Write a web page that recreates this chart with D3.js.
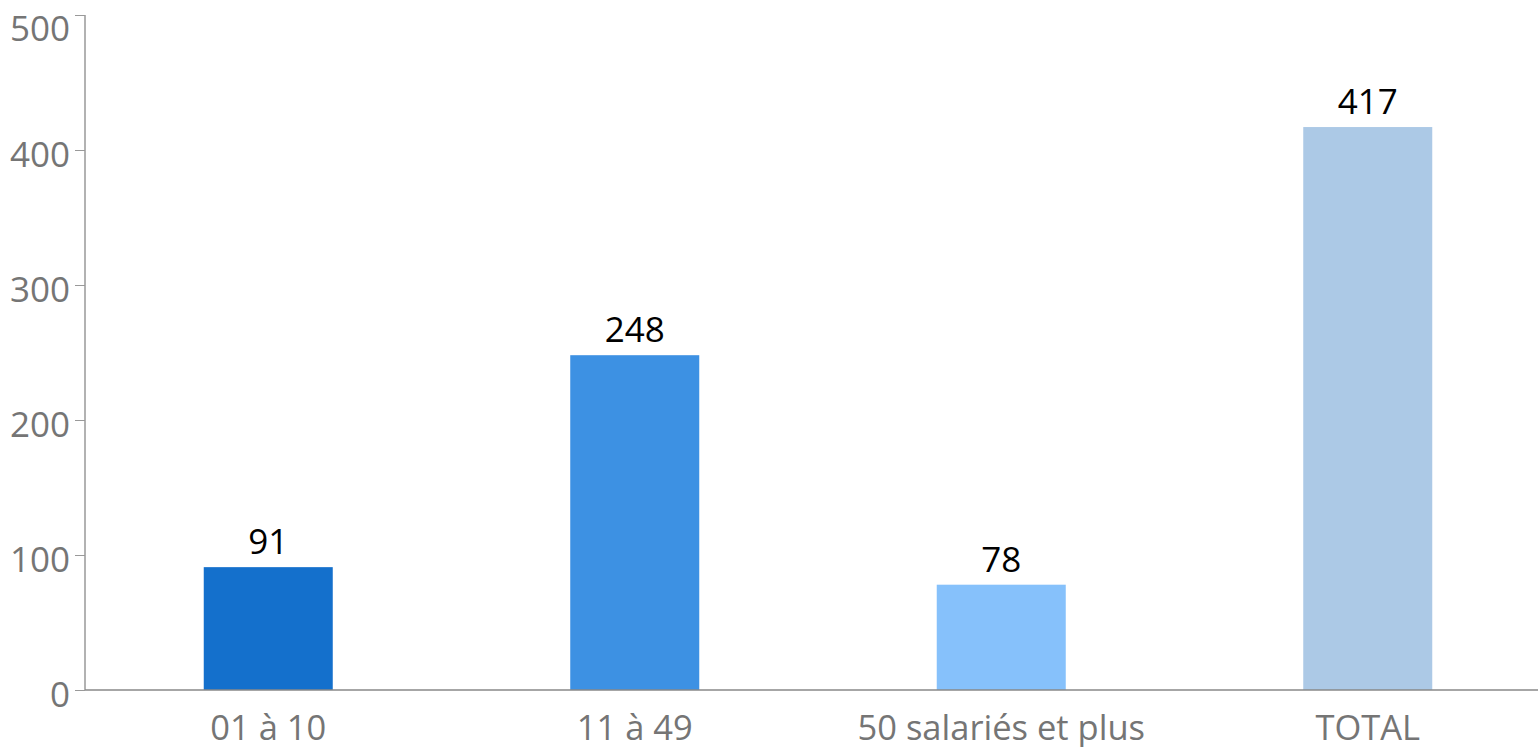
<!DOCTYPE html>
<html><head><meta charset="utf-8">
<script src="https://cdn.jsdelivr.net/npm/d3@7"></script>
<style>body{margin:0;background:#fff}svg{display:block}text{font-family:"Open Sans","Noto Sans",sans-serif}</style>
</head><body>
<svg id="c" width="1538" height="747"></svg>
<script>
const categories = ["01 à 10", "11 à 49", "50 salariés et plus", "TOTAL"];
const values = [91, 248, 78, 417];
const colors = ["#1470CC", "#3D91E3", "#86C1FB", "#ACC9E6"];
const yTicks = [0, 100, 200, 300, 400, 500];

const svg = d3.select("#c");
const x = d3.scaleBand().domain(categories).range([85, 1551]).paddingInner(0.648).paddingOuter(0.324);
const y = d3.scaleLinear().domain([0, 500]).range([690, 15]);

// y axis
const ya = svg.append("g").attr("transform", "translate(85,0)")
  .call(d3.axisLeft(y).tickValues(yTicks).tickSize(10).tickPadding(5).tickFormat(d3.format("d")));
ya.select(".domain").attr("stroke", "#999").attr("stroke-width", 1.5).attr("d", "M0,690V15");
ya.selectAll(".tick line").attr("stroke", "#999");
ya.selectAll(".tick text").attr("fill", "#757575").style("font-size", "35px")
  .attr("y", d => (d === 500 ? 13 : 4)).attr("dy", "0.36em");

// bars
svg.append("g").selectAll("rect").data(values).join("rect")
  .attr("x", (d, i) => x(categories[i]))
  .attr("width", x.bandwidth())
  .attr("y", d => y(d))
  .attr("height", d => y(0) - y(d))
  .attr("fill", (d, i) => colors[i]);

// value labels
svg.append("g").selectAll("text").data(values).join("text")
  .attr("x", (d, i) => x(categories[i]) + x.bandwidth() / 2)
  .attr("y", d => y(d) - 13)
  .attr("text-anchor", "middle")
  .attr("fill", "#000")
  .style("font-size", "35px")
  .text(d => d);

// x axis
const xa = svg.append("g").attr("transform", "translate(0,690)")
  .call(d3.axisBottom(x).tickSize(0));
xa.select(".domain").attr("stroke", "#888").attr("stroke-width", 1.5).attr("d", "M85,0H1538");
xa.selectAll(".tick text").attr("fill", "#757575").style("font-size", "34.5px").attr("y", 50).attr("dy", "0");
</script>
</body></html>
